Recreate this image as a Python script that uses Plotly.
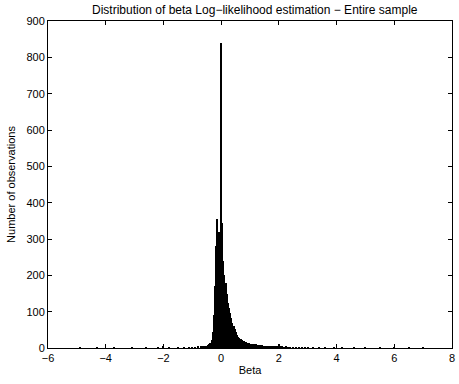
import plotly.graph_objects as go

# Core histogram: bins of width 0.04 starting at centre -0.60
bin_start = -0.60
bin_width = 0.04
core_counts = [3, 4, 5, 6, 8, 10, 14, 22, 45, 90, 170, 280, 355, 318, 295,
               840, 345, 240, 200, 180, 150, 125, 110, 96, 82, 70, 60, 52, 44,
               36, 31, 28, 25, 22, 20, 18, 17, 16, 14, 15, 12, 11, 12, 10, 9,
               10, 8, 9, 7, 8, 6, 7, 6, 5, 6, 5, 4, 5, 4, 4, 3, 4, 3, 3, 4, 10,
               3, 2, 3, 2, 2, 3, 2, 2, 1, 2]
core_x = [round(bin_start + i * bin_width, 2) for i in range(len(core_counts))]

# Sparse tails
tail_x = [-4.9, -4.3, -3.7, -3.1, -2.6, -2.2, -2.0, -1.8, -1.5, -1.3, -1.1, -1.0,
          -0.9, -0.8, -0.7, -0.64,
          2.5, 2.6, 2.7, 2.8, 2.9, 3.0, 3.2, 3.4, 3.6, 3.9, 4.2, 4.6, 5.0, 5.5,
          6.0, 6.5, 7.0]
tail_y = [1, 1, 1, 1, 1, 1, 3, 1, 2, 1, 2, 2, 2, 3, 3, 3,
          2, 1, 2, 1, 1, 2, 1, 1, 1, 1, 1, 1, 1, 1, 1, 1, 1]

x_ticks = [-6, -4, -2, 0, 2, 4, 6, 8]
y_ticks = [0, 100, 200, 300, 400, 500, 600, 700, 800, 900]

fig = go.Figure()
# core drawn slightly overlapping so it renders as a solid black mass
fig.add_trace(go.Bar(x=core_x, y=core_counts, width=bin_width * 1.35,
                     marker=dict(color="black", line=dict(width=0)),
                     showlegend=False))
fig.add_trace(go.Bar(x=tail_x, y=tail_y, width=bin_width,
                     marker=dict(color="black", line=dict(width=0)),
                     showlegend=False))

font = dict(family="Liberation Sans, Arial, Helvetica, sans-serif", size=11, color="black")

fig.update_layout(
    width=459, height=384,
    margin=dict(l=48, r=4, t=21, b=36),
    paper_bgcolor="white", plot_bgcolor="white",
    font=font,
    barmode="overlay",
    bargap=0,
    title=dict(text="Distribution of beta Log−likelihood estimation − Entire sample",
               x=0.555, xanchor="center", y=0.975, yanchor="middle",
               font=dict(size=12)),
    xaxis=dict(range=[-6, 8], tickvals=x_ticks, ticks="inside", ticklen=4,
               tickcolor="black", showline=True, linecolor="black", linewidth=1,
               mirror="ticks", showgrid=False, zeroline=False,
               tickfont=dict(size=11),
               title=dict(text="Beta", standoff=3, font=dict(size=11))),
    yaxis=dict(range=[0, 900], tickvals=y_ticks, ticks="inside", ticklen=4,
               tickcolor="black", showline=True, linecolor="black", linewidth=1,
               mirror="ticks", showgrid=False, zeroline=False,
               tickfont=dict(size=11),
               title=dict(text="Number of observations", standoff=8, font=dict(size=11))),
)

fig.write_html("out.html")
